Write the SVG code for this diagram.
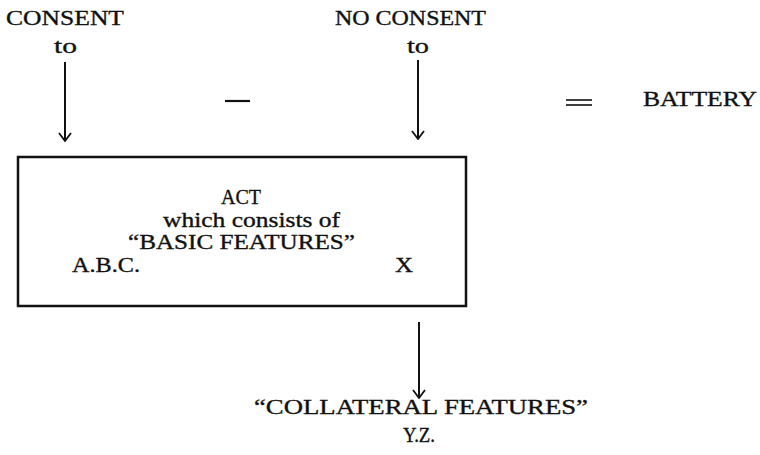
<svg xmlns="http://www.w3.org/2000/svg" width="760" height="455" viewBox="0 0 760 455">
<style>
text{font-family:"Liberation Serif","Times New Roman",serif;font-size:22px;fill:#111;stroke:#111;stroke-width:0.35}
.s{font-size:21px}
.c{text-anchor:middle}
.ln{stroke:#111;stroke-width:2;fill:none}
</style>
<defs>
<marker id="ah" viewBox="0 0 12 14" refX="11" refY="7" markerWidth="12" markerHeight="14" markerUnits="userSpaceOnUse" orient="auto">
<path d="M3,1 L11,7 L3,13" fill="none" stroke="#111" stroke-width="1.8"/>
</marker>
</defs>
<rect width="760" height="455" fill="#fff"/>
<g id="consent">
<text x="6" y="25" textLength="118" lengthAdjust="spacingAndGlyphs">CONSENT</text>
<text x="54" y="53" textLength="23" lengthAdjust="spacingAndGlyphs">to</text>
</g>
<g id="noconsent">
<text x="335" y="25" textLength="151" lengthAdjust="spacingAndGlyphs">NO CONSENT</text>
<text x="407" y="53" textLength="22" lengthAdjust="spacingAndGlyphs">to</text>
</g>
<g id="minus"><line x1="225" y1="101" x2="250" y2="101" stroke="#111" stroke-width="2.2"/></g>
<g id="equals">
<line x1="566" y1="100" x2="592" y2="100" stroke="#111" stroke-width="1.6"/>
<line x1="566" y1="105" x2="592" y2="105" stroke="#111" stroke-width="1.6"/>
</g>
<g id="battery"><text x="643" y="106" textLength="114" lengthAdjust="spacingAndGlyphs">BATTERY</text></g>
<g id="act">
<rect x="18" y="157" width="448" height="149" fill="none" stroke="#111" stroke-width="2.5"/>
<text x="221" y="204" class="s" textLength="40" lengthAdjust="spacingAndGlyphs">ACT</text>
<text x="163" y="227" class="s" textLength="177" lengthAdjust="spacingAndGlyphs">which consists of</text>
<text x="128" y="249" class="s" textLength="227" lengthAdjust="spacingAndGlyphs">“BASIC FEATURES”</text>
<text x="72" y="272" class="s" textLength="68" lengthAdjust="spacingAndGlyphs">A.B.C.</text>
<text x="395" y="272" class="s" textLength="18" lengthAdjust="spacingAndGlyphs">X</text>
</g>
<g id="collateral">
<text x="254" y="414" textLength="334" lengthAdjust="spacingAndGlyphs">“COLLATERAL  FEATURES”</text>
<text x="403" y="442" textLength="32" lengthAdjust="spacingAndGlyphs">Y.Z.</text>
</g>
<g id="connectors">
<line class="ln" x1="65" y1="62" x2="65" y2="141" marker-end="url(#ah)"/>
<line class="ln" x1="418" y1="60" x2="418" y2="139" marker-end="url(#ah)"/>
<line class="ln" x1="419" y1="322" x2="419" y2="398" marker-end="url(#ah)"/>
</g>
</svg>
